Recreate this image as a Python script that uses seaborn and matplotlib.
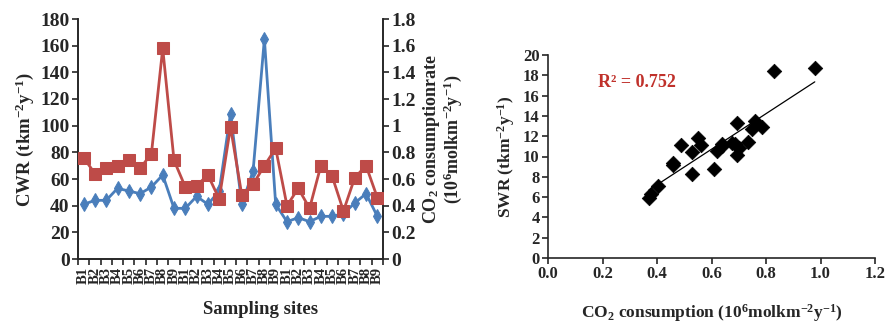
import numpy as np
import pandas as pd
import matplotlib
matplotlib.use("Agg")
import matplotlib.pyplot as plt
import seaborn as sns

# ---------------- data ----------------
sites = ["B1", "B2", "B3", "B4", "B5", "B6", "B7", "B8", "B9"] * 3
cwr = [41, 44, 44, 53, 51, 49, 54, 63, 38,
       38, 47, 41, 51, 109, 41, 66, 165, 41,
       28, 31, 28, 32, 32, 34, 42, 49, 32]
co2_rate = [0.76, 0.64, 0.68, 0.70, 0.74, 0.68, 0.79, 1.58, 0.74,
            0.54, 0.55, 0.63, 0.45, 0.99, 0.48, 0.56, 0.70, 0.83,
            0.40, 0.53, 0.38, 0.70, 0.62, 0.36, 0.61, 0.70, 0.46]

co2_cons = [0.370, 0.379, 0.404, 0.460, 0.457, 0.487, 0.530, 0.530, 0.549,
            0.561, 0.611, 0.620, 0.637, 0.640, 0.677, 0.686, 0.693, 0.693,
            0.702, 0.735, 0.747, 0.759, 0.785, 0.829, 0.979]
swr = [5.95, 6.35, 7.1, 9.2, 9.4, 11.1, 8.26, 10.46, 11.84,
       11.18, 8.8, 10.56, 11.28, 11.0, 11.35, 11.2, 13.3, 10.16,
       10.8, 11.45, 12.7, 13.5, 12.9, 18.4, 18.75]
r2_text = "R² = 0.752"
left_ticks = [0, 20, 40, 60, 80, 100, 120, 140, 160, 180]
right_ticks = ["0", "0.2", "0.4", "0.6", "0.8", "1", "1.2", "1.4", "1.6", "1.8"]

# ---------------- style ----------------
sns.set_style("ticks")
plt.rcParams["font.family"] = ["Liberation Serif", "DejaVu Serif"]
plt.rcParams["font.weight"] = "bold"
plt.rcParams["mathtext.fontset"] = "custom"
plt.rcParams["mathtext.rm"] = "Liberation Serif:bold"
plt.rcParams["mathtext.bf"] = "Liberation Serif:bold"
plt.rcParams["mathtext.it"] = "Liberation Serif:bold"
plt.rcParams["mathtext.default"] = "bf"
plt.rcParams["axes.linewidth"] = 1.2

BLUE = "#4A7EBB"
RED = "#BE4B48"

W, H = 885, 326
fig = plt.figure(figsize=(W / 100, H / 100), dpi=100)

def ax_rect(x0, y0, x1, y1):
    return [x0 / W, (H - y1) / H, (x1 - x0) / W, (y1 - y0) / H]

# ---------------- left chart ----------------
ax = fig.add_axes(ax_rect(78, 19, 383, 259))
ax2 = ax.twinx()
df = pd.DataFrame({"idx": np.arange(len(sites)), "cwr": cwr, "co2": co2_rate})

sns.lineplot(data=df, x="idx", y="cwr", ax=ax, color=BLUE, lw=2,
             marker="d", markersize=7.5, markeredgecolor=BLUE, zorder=3)
sns.lineplot(data=df, x="idx", y="co2", ax=ax2, color=RED, lw=2,
             marker="s", markersize=8, markeredgecolor=RED, zorder=3)

ax.set_xlim(-0.5, len(sites) - 0.5)
ax.set_ylim(0, 180)
ax.set_yticks(left_ticks)
ax2.set_ylim(0, 1.8)
ax2.set_yticks([float(t) for t in right_ticks])
ax2.set_yticklabels(right_ticks)
ax.set_xticks(np.arange(len(sites)))
ax.set_xticklabels(sites, rotation=90, fontsize=10.5, fontweight="bold")
ax.set_xticks(np.arange(-0.5, len(sites), 1), minor=True)
ax.tick_params(axis="x", which="major", length=0, pad=6)
ax.tick_params(axis="x", which="minor", length=4, width=1.2, direction="out")
ax.tick_params(axis="y", labelsize=14, length=4, width=1.2, pad=2)
ax2.tick_params(axis="y", labelsize=14, length=4, width=1.2, pad=2)
for a in (ax, ax2):
    a.spines["top"].set_visible(False)
    for lab in a.get_yticklabels():
        lab.set_fontweight("bold")
ax2.spines["right"].set_visible(True)
ax.set_xlabel("")
ax2.set_xlabel("")
ax.set_ylabel(r"CWR (tkm$^{-2}$y$^{-1}$)", fontsize=13.5, fontweight="bold", labelpad=3)
ax2.set_ylabel("CO$_2$ consumptionrate\n(10$^{6}$molkm$^{-2}$y$^{-1}$)",
               fontsize=13, fontweight="bold", labelpad=4, linespacing=0.95)
fig.text(261 / W, 1 - 310 / H, "Sampling sites", ha="center", va="center",
         fontsize=13.5, fontweight="bold")

# ---------------- right chart ----------------
bx = fig.add_axes(ax_rect(548, 55, 875, 258))
sdf = pd.DataFrame({"co2": co2_cons, "swr": swr})
sns.scatterplot(data=sdf, x="co2", y="swr", ax=bx, marker="D", s=55,
                color="black", edgecolor="black", linewidth=0.5, zorder=3)
sns.regplot(data=sdf, x="co2", y="swr", ax=bx, scatter=False, ci=None,
            truncate=True, line_kws={"color": "black", "lw": 0.9})
bx.set_xlim(0, 1.2)
bx.set_ylim(0, 20)
bx.set_xticks(np.arange(0, 1.21, 0.2))
bx.set_xticklabels([f"{v:.1f}" for v in np.arange(0, 1.21, 0.2)])
bx.set_yticks(np.arange(0, 21, 2))
bx.tick_params(labelsize=12, length=4, width=1.2, pad=2)
for lab in bx.get_xticklabels() + bx.get_yticklabels():
    lab.set_fontweight("bold")
sns.despine(ax=bx)
bx.set_xlabel("CO$_2$ consumption (10$^{6}$molkm$^{-2}$y$^{-1}$)",
              fontsize=12.5, fontweight="bold", labelpad=14)
bx.set_ylabel(r"SWR (tkm$^{-2}$y$^{-1}$)", fontsize=12.5, fontweight="bold", labelpad=4)
bx.text(0.184, 17.3, r2_text, color="#C0312B", fontsize=13, fontweight="bold",
        ha="left", va="center")

fig.savefig("out.png", dpi=100)
